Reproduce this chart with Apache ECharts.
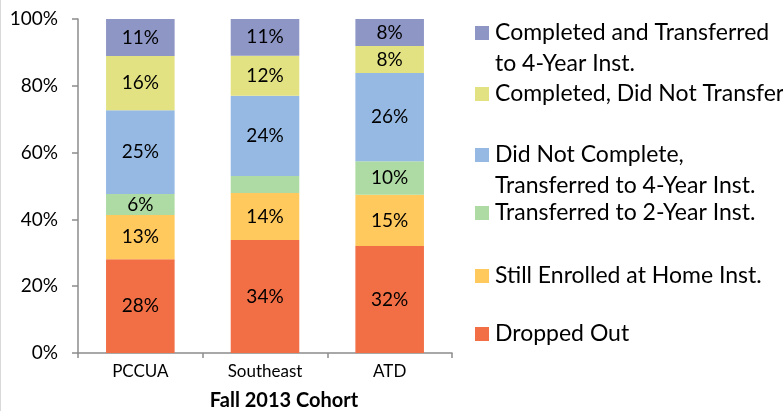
<!DOCTYPE html>
<html>
<head>
<meta charset="utf-8">
<script src="https://cdn.jsdelivr.net/npm/echarts@6/dist/echarts.min.js"></script>
<style>
  html, body { margin: 0; padding: 0; background: #fff; }
  #chart { width: 783px; height: 411px; }
</style>
</head>
<body>
<div id="chart"></div>
<script>
// Cohort outcomes, share of students (%) per college
const categories = ['PCCUA', 'Southeast', 'ATD'];
const droppedOut = [28.1, 33.8, 32.0];
const stillEnrolled = [13.2, 14.1, 15.4];
const transferred2Yr = [6.3, 5.1, 10.0];
const notCompletedTransferred4Yr = [25.1, 24.0, 26.4];
const completedNoTransfer = [16.2, 12.0, 8.1];
const completedTransferred4Yr = [11.1, 11.0, 8.1];
const yTicks = [0, 20, 40, 60, 80, 100];
const xTitle = 'Fall 2013 Cohort';

// Bottom-to-top stack order; some small segments carry no label.
// "wrap" holds the second line of a two-line legend entry.
const seriesDefs = [
  { name: 'Dropped Out', data: droppedOut, color: '#F26E45', labelled: [true, true, true] },
  { name: 'Still Enrolled at Home Inst.', data: stillEnrolled, color: '#FFC95E', labelled: [true, true, true] },
  { name: 'Transferred to 2-Year Inst.', data: transferred2Yr, color: '#ADDBA3', labelled: [true, false, true] },
  { name: 'Did Not Complete,', wrap: 'Transferred to 4-Year Inst.', data: notCompletedTransferred4Yr, color: '#95B9E3', labelled: [true, true, true] },
  { name: 'Completed, Did Not Transfer', data: completedNoTransfer, color: '#E3E283', labelled: [true, true, true] },
  { name: 'Completed and Transferred', wrap: 'to 4-Year Inst.', data: completedTransferred4Yr, color: '#8E96C6', labelled: [true, true, true] }
];

const FONT = 'Lato';
const txt = '#000';
const LEGEND_FONT = 23;
const LEGEND_LINE = 28;
const LEGEND_LINE_GAP = 31;

// Legend entries placed top-down, one legend block per series
const legendTops = [19, 80, 141, 199, 262, 320];
const legendOrder = seriesDefs.slice().reverse();

const wrapTexts = [];
legendOrder.forEach((s, i) => {
  if (s.wrap) {
    wrapTexts.push({
      type: 'text',
      left: 495,
      top: legendTops[i] + LEGEND_LINE_GAP,
      style: {
        text: s.wrap,
        fontFamily: FONT,
        fontSize: LEGEND_FONT,
        lineHeight: LEGEND_LINE,
        fill: txt
      }
    });
  }
});

const chart = echarts.init(document.getElementById('chart'), null, { renderer: 'canvas' });
chart.setOption({
  animation: false,
  backgroundColor: '#fff',
  grid: { left: 78, right: 331, top: 19, bottom: 58, containLabel: false, outerBoundsMode: 'none' },
  xAxis: {
    type: 'category',
    data: categories,
    name: xTitle,
    nameLocation: 'middle',
    nameGap: 38,
    nameTextStyle: { fontFamily: FONT, fontWeight: 'bold', fontSize: 20, color: txt, padding: [0, 0, 0, 38] },
    axisLine: { lineStyle: { color: '#8c8c8c', width: 1.5 } },
    axisTick: { show: true, length: 5, lineStyle: { color: '#8c8c8c', width: 1.5 } },
    axisLabel: { fontFamily: FONT, fontSize: 17, color: txt, margin: 10 }
  },
  yAxis: {
    type: 'value',
    min: yTicks[0],
    max: yTicks[yTicks.length - 1],
    interval: yTicks[1] - yTicks[0],
    axisLine: { show: true, lineStyle: { color: '#8c8c8c', width: 1.5 } },
    axisTick: { show: true, length: 6, lineStyle: { color: '#8c8c8c', width: 1.5 } },
    splitLine: { show: false },
    axisLabel: { fontFamily: FONT, fontSize: 19, color: txt, margin: 20, formatter: '{value}%' }
  },
  legend: legendOrder.map((s, i) => ({
    data: [s.name],
    left: 475,
    top: legendTops[i],
    padding: 0,
    orient: 'vertical',
    itemWidth: 14,
    itemHeight: 14,
    itemGap: 0,
    selectedMode: false,
    icon: 'rect',
    textStyle: { fontFamily: FONT, fontSize: LEGEND_FONT, color: txt, lineHeight: LEGEND_LINE, padding: [0, 0, 0, 1] }
  })),
  graphic: [
    { type: 'line', shape: { x1: 0.5, y1: 0, x2: 0.5, y2: 411 }, style: { stroke: '#d9d9d9', lineWidth: 1 } }
  ].concat(wrapTexts),
  series: seriesDefs.map(s => ({
    name: s.name,
    type: 'bar',
    stack: 'total',
    barWidth: '55%',
    itemStyle: { color: s.color },
    data: s.data.map((v, j) => ({
      value: v,
      label: {
        show: s.labelled[j],
        position: 'inside',
        fontFamily: FONT,
        fontSize: 19,
        color: txt,
        formatter: p => Math.round(p.value) + '%'
      }
    }))
  }))
});
</script>
</body>
</html>
